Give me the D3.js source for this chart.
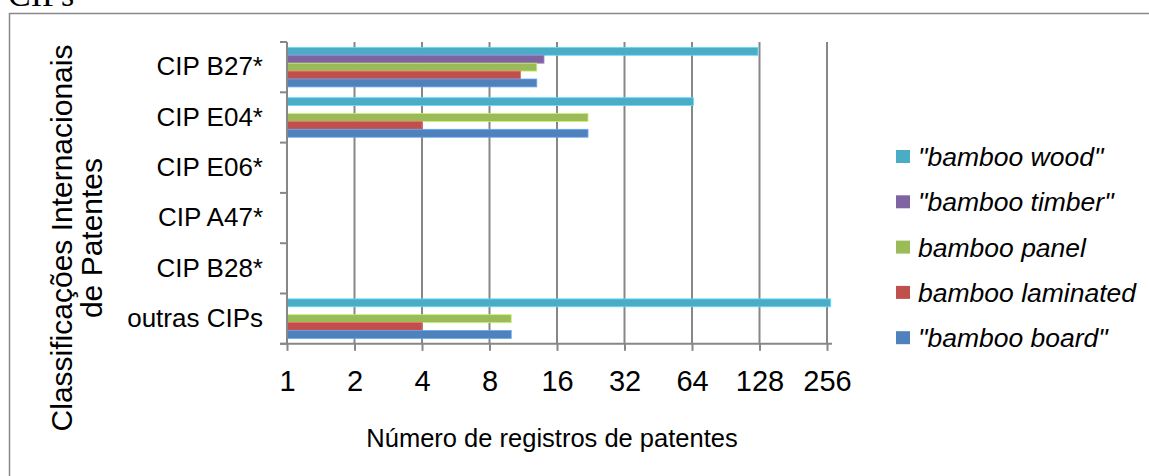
<!DOCTYPE html>
<html>
<head>
<meta charset="utf-8">
<script src="https://cdn.jsdelivr.net/npm/d3@7"></script>
<style>
  body { margin: 0; background: #fff; }
  svg { display: block; font-family: "Liberation Sans", Arial, sans-serif; }
</style>
</head>
<body>
<div class="chart"></div>
<script>
var categories = ["CIP B27*", "CIP E04*", "CIP E06*", "CIP A47*", "CIP B28*", "outras CIPs"];
var seriesNames = ['"bamboo wood"', '"bamboo timber"', "bamboo panel", "bamboo laminated", '"bamboo board"'];
var seriesColors = ["#4BACC6", "#8064A2", "#9BBB59", "#C0504D", "#4F81BD"];

// values per category (0 = no bar)
var bambooWood      = [126, 65, 0, 0, 0, 266];
var bambooTimber    = [14, 0, 0, 0, 0, 0];
var bambooPanel     = [13, 22, 0, 0, 0, 10];
var bambooLaminated = [11, 4, 0, 0, 0, 4];
var bambooBoard     = [13, 22, 0, 0, 0, 10];
var seriesValues = [bambooWood, bambooTimber, bambooPanel, bambooLaminated, bambooBoard];

var xTicks = [1, 2, 4, 8, 16, 32, 64, 128, 256];

function patentChart() {

    var width = 1149, height = 476;
    var plotTop = 42, plotBottom = 343.8;

    var svg = d3.select(".chart").append("svg")
        .attr("width", width)
        .attr("height", height);

    // frame + cut-off caption above
    svg.append("text")
        .attr("x", 8)
        .attr("y", 6)
        .attr("font-family", "'Liberation Serif', 'Times New Roman', serif")
        .attr("font-size", 34)
        .attr("fill", "#000")
        .text("CIPs");

    svg.append("rect")
        .attr("x", 9.5)
        .attr("y", 13.5)
        .attr("width", 1160)
        .attr("height", 480)
        .attr("fill", "none")
        .attr("stroke", "#898989")
        .attr("stroke-width", 1.5);

    var x = d3.scaleLog().base(2).domain([1, 256]).range([287, 827]);
    var y0 = d3.scaleBand().domain(categories).range([plotTop, plotBottom]);
    var y1 = d3.scaleBand().domain(seriesNames).range([0, y0.bandwidth()]).paddingOuter(0.68);

    // gridlines
    svg.append("g").selectAll("line")
        .data(xTicks.slice(1))
        .enter().append("line")
        .attr("x1", function(d) { return x(d); })
        .attr("x2", function(d) { return x(d); })
        .attr("y1", plotTop)
        .attr("y2", plotBottom)
        .attr("stroke", "#878787")
        .attr("stroke-width", 2);

    // bars
    var rows = [];
    categories.forEach(function(c, i) {
        seriesNames.forEach(function(s, j) {
            rows.push({ cat: c, series: s, value: seriesValues[j][i], color: seriesColors[j] });
        });
    });

    svg.append("g").selectAll("rect")
        .data(rows.filter(function(d) { return d.value > 1; }))
        .enter().append("rect")
        .attr("x", x(1))
        .attr("y", function(d) { return y0(d.cat) + y1(d.series); })
        .attr("width", function(d) { return x(d.value) - x(1); })
        .attr("height", y1.bandwidth())
        .attr("fill", function(d) { return d.color; })
        .attr("stroke", function(d) { return d3.color(d.color).brighter(0.7); })
        .attr("stroke-width", 0.8);

    // x axis
    var xAxis = svg.append("g")
        .attr("transform", "translate(0," + plotBottom + ")")
        .call(d3.axisBottom(x).tickValues(xTicks).tickFormat(d3.format("d")).tickSize(7).tickSizeOuter(0).tickPadding(19.5));
    xAxis.select(".domain").remove();
    xAxis.append("line")
        .attr("x1", 280).attr("x2", 832)
        .attr("stroke", "#878787").attr("stroke-width", 2);
    xAxis.selectAll(".tick line").attr("stroke", "#878787").attr("stroke-width", 2);
    xAxis.selectAll(".tick text")
        .attr("font-size", 29)
        .attr("font-family", "'Liberation Sans', Arial, sans-serif")
        .attr("fill", "#000");

    // y axis
    var yAxis = svg.append("g")
        .attr("transform", "translate(287,0)")
        .call(d3.axisLeft(y0).tickSize(0).tickPadding(24));
    yAxis.select(".domain").remove();
    yAxis.append("line")
        .attr("y1", plotTop).attr("y2", plotBottom)
        .attr("stroke", "#878787").attr("stroke-width", 2);
    yAxis.selectAll(".tick text")
        .attr("font-size", 26)
        .attr("font-family", "'Liberation Sans', Arial, sans-serif")
        .attr("fill", "#000");
    yAxis.append("g").selectAll("line")
        .data(d3.range(categories.length + 1))
        .enter().append("line")
        .attr("x1", -7).attr("x2", 0)
        .attr("y1", function(i) { return plotTop + i * y0.step(); })
        .attr("y2", function(i) { return plotTop + i * y0.step(); })
        .attr("stroke", "#878787").attr("stroke-width", 2);

    // axis titles
    svg.append("text")
        .attr("x", 552)
        .attr("y", 447)
        .attr("text-anchor", "middle")
        .attr("font-size", 25.5)
        .text("Número de registros de patentes");

    var yTitle = svg.append("text")
        .attr("transform", "translate(0,238) rotate(-90)")
        .attr("text-anchor", "middle")
        .attr("font-size", 30);
    yTitle.append("tspan").attr("x", 0).attr("y", 72).text("Classificações Internacionais");
    yTitle.append("tspan").attr("x", 0).attr("y", 102).text("de Patentes");

    // legend
    var legend = svg.append("g").selectAll("g")
        .data(seriesNames)
        .enter().append("g")
        .attr("transform", function(d, i) { return "translate(896," + (157 + i * 45.3) + ")"; });
    legend.append("rect")
        .attr("x", 0).attr("y", -7)
        .attr("width", 14).attr("height", 13)
        .attr("fill", function(d, i) { return seriesColors[i]; });
    legend.append("text")
        .attr("x", 22)
        .attr("y", 9)
        .attr("font-size", 26.5)
        .attr("font-style", "italic")
        .text(function(d) { return d; });
}

patentChart();
</script>
</body>
</html>
